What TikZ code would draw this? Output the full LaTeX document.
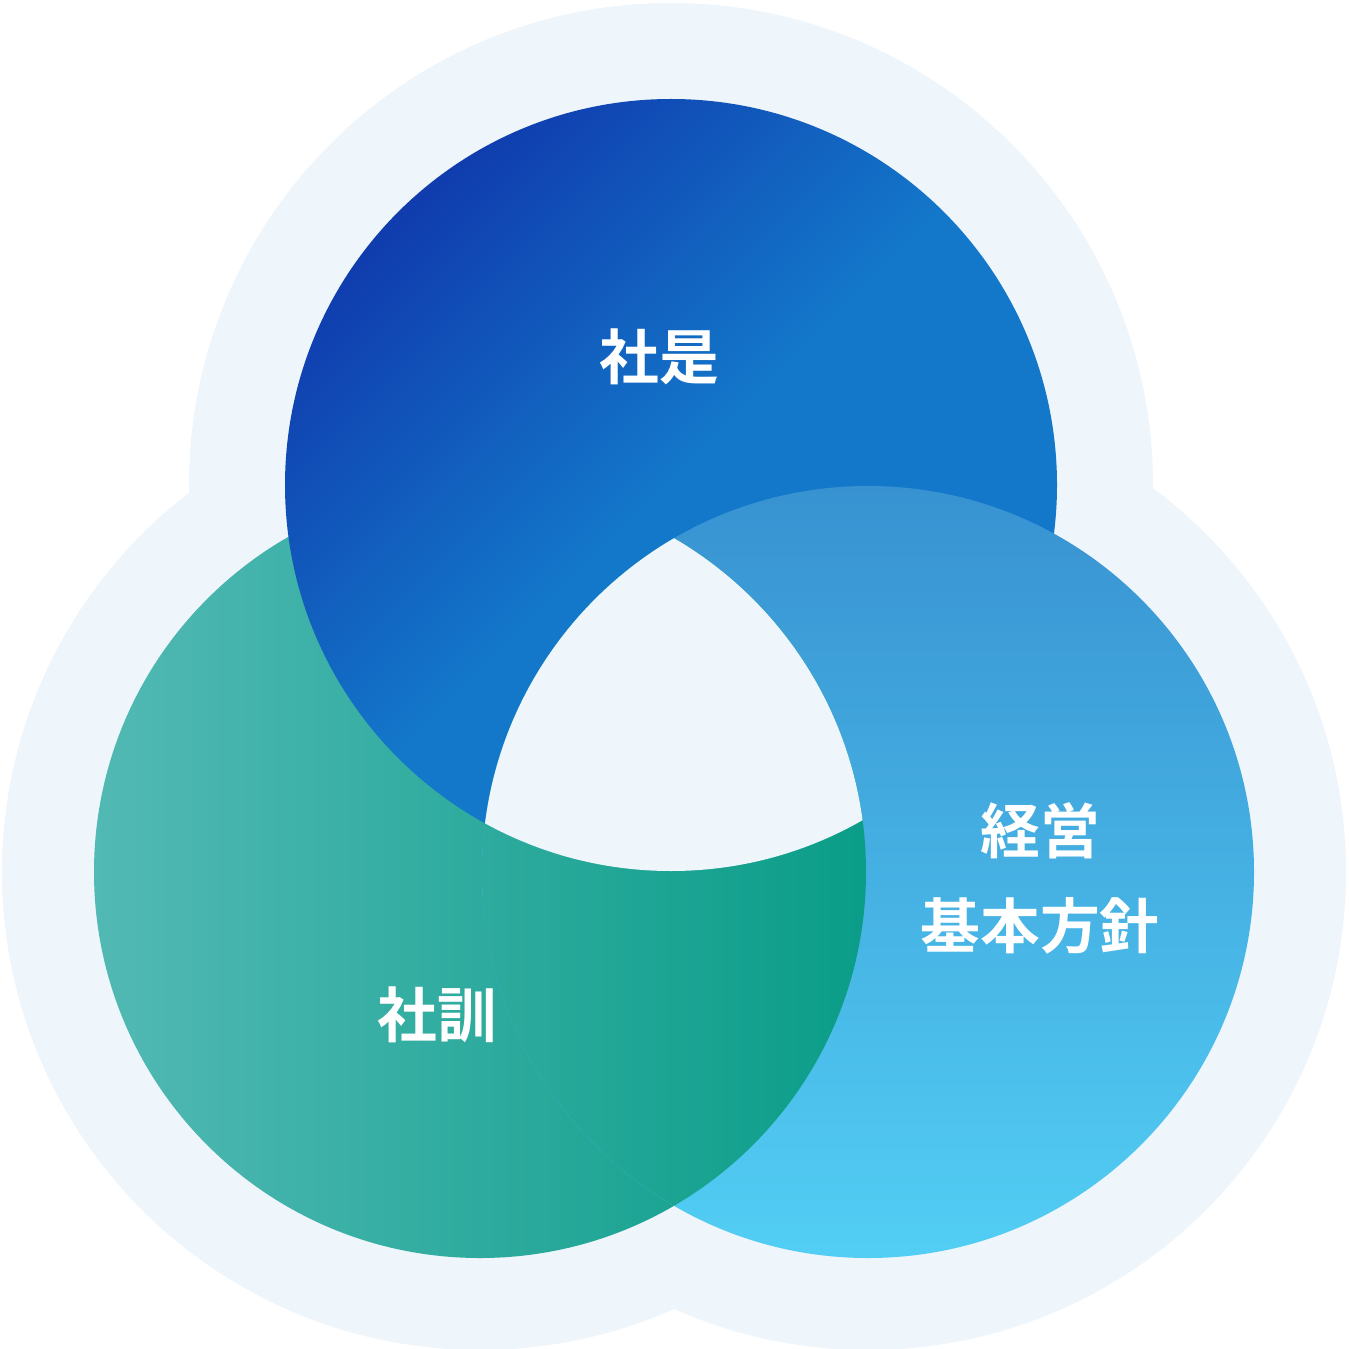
\documentclass[tikz,border=0pt]{standalone}
\usepackage{fontspec}
\newfontfamily\jpfont{Noto Sans CJK JP}[BoldFont={Noto Sans CJK JP Bold}]
\definecolor{bgblue}{HTML}{EEF5FB}
\definecolor{topdark}{HTML}{103CAE}
\definecolor{toplight}{HTML}{1378CA}
\definecolor{grnlight}{HTML}{52B9B4}
\definecolor{grndark}{HTML}{0A9D88}
\definecolor{bluetop}{HTML}{3892D1}
\definecolor{bluebot}{HTML}{52CEF4}
\tikzset{label/.style={text=white,font=\jpfont\bfseries\fontsize{17}{27}\selectfont,align=center}}
\begin{document}
\begin{tikzpicture}[x=0.01cm,y=-0.01cm]
\useasboundingbox (0,0) rectangle (1349,1349);
\coordinate (ctop) at (671,485);
\coordinate (cleft) at (480,872);
\coordinate (cright) at (868,872);

% background blob
\fill[bgblue] (ctop) circle (482) (cleft) circle (478) (cright) circle (478);
\fill[bgblue] (ctop) -- (cleft) -- (cright) -- cycle;

% circles
\shade[left color=grnlight,middle color=grnlight!70!grndark,right color=grndark] (cleft) circle (386);
\shade[left color=topdark,right color=toplight,middle color=toplight,shading angle=45] (ctop) circle (386);
\shade[top color=bluetop,bottom color=bluebot] (cright) circle (386);
\begin{scope}
\clip (cright) circle (386);
\shade[left color=grnlight,middle color=grnlight!70!grndark,right color=grndark] (cleft) circle (386);
\end{scope}
\begin{scope}
\clip (ctop) circle (386);
\clip (cleft) circle (386);
\fill[bgblue] (cright) circle (386);
\end{scope}

\node[label] (shaze) at (659,357) {社是};
\node[label] (shakun) at (437,1015) {社訓};
\node[label] (keiei) at (1040,878) {経営\\基本方針};
\end{tikzpicture}
\end{document}
